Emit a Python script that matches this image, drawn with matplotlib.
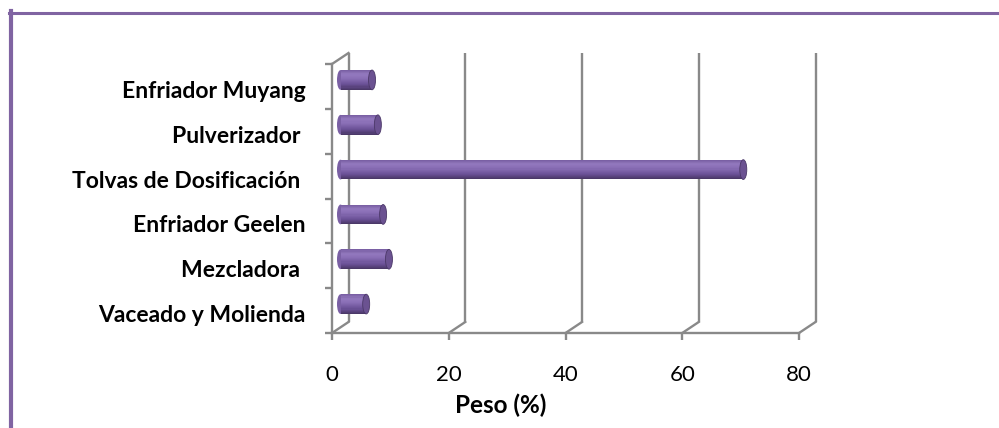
import numpy as np
import matplotlib
matplotlib.use('Agg')
import matplotlib.pyplot as plt
from matplotlib.colors import LinearSegmentedColormap
from matplotlib.patches import Ellipse
from matplotlib.lines import Line2D
import matplotlib.transforms as mtransforms

# Peso por equipo (%), de abajo hacia arriba
equipos = ['Vaceado y Molienda', 'Mezcladora ', 'Enfriador Geelen',
           'Tolvas de Dosificación ', 'Pulverizador ', 'Enfriador Muyang']
peso = [4.4, 8.3, 7.3, 69.0, 6.4, 5.4]
ticks_x = [0, 20, 40, 60, 80]

GRIS = '#898989'
MORADO = '#8064A2'
W, H, DPI = 999, 428, 100

plt.rcParams['font.family'] = ['Lato', 'DejaVu Sans']

fig = plt.figure(figsize=(W / DPI, H / DPI), dpi=DPI)
# área frontal del gráfico (en píxeles: x 332..799, y 64..333 desde arriba)
ax = fig.add_axes([332 / W, 95 / H, (799 - 332) / W, (333 - 64) / H])
ax.set_xlim(0, 80)
ax.set_ylim(0, len(equipos))
n_cat = len(equipos)


def desplazar(dx_px, dy_px):
    return ax.transData + mtransforms.ScaledTranslation(
        dx_px / DPI, dy_px / DPI, fig.dpi_scale_trans)


fondo = desplazar(16.5, 11)     # pared del fondo
medio = desplazar(8.5, 6.5)     # plano de las barras
inv = ax.transData.inverted()


def a_fondo(x, y):
    return inv.transform(fondo.transform((x, y)))


# pared del fondo: líneas de división y aristas diagonales
for xv in ticks_x:
    ax.plot([xv, xv], [0, n_cat], color=GRIS, lw=1.7, transform=fondo,
            clip_on=False, zorder=1, solid_capstyle='butt')
    xb, yb = a_fondo(xv, 0)
    ax.plot([xv, xb], [0, yb], color=GRIS, lw=1.7, clip_on=False, zorder=1)
xt, yt = a_fondo(0, n_cat)
ax.plot([0, xt], [n_cat, yt], color=GRIS, lw=1.7, clip_on=False, zorder=1)

# cilindros: franjas horizontales con degradado
cmap = LinearSegmentedColormap.from_list('cil', [
    (0.0, '#4B3868'), (0.25, '#6A5096'), (0.6, '#8A6FB6'),
    (0.8, '#9379BE'), (1.0, '#7A60A4')])
alto = 0.44
n = 18
px_por_unidad = (799 - 332) / 80
ancho_tapa = 7 / px_por_unidad
centros = np.arange(n_cat) + 0.5
for yc, v in zip(centros, peso):
    ax.add_patch(Ellipse((0, yc), ancho_tapa, alto, facecolor='#7A60A4',
                         edgecolor='none', transform=medio, zorder=3,
                         clip_on=False))
    for k in range(n):
        y0 = yc - alto / 2 + k * alto / n
        ax.barh(y0, v, height=alto / n, align='edge', color=cmap(k / (n - 1)),
                edgecolor='none', transform=medio, zorder=4, clip_on=False)
    ax.add_patch(Ellipse((v, yc), ancho_tapa, alto, facecolor='#6B5291',
                         edgecolor='#4B3868', lw=0.6, transform=medio,
                         zorder=5, clip_on=False))

# ejes frontales
for lado in ['top', 'right']:
    ax.spines[lado].set_visible(False)
for lado in ['left', 'bottom']:
    ax.spines[lado].set_color(GRIS)
    ax.spines[lado].set_linewidth(1.7)
    ax.spines[lado].set_zorder(2)

ax.set_xticks(ticks_x)
ax.set_xticklabels([str(t) for t in ticks_x], fontsize=16)
ax.tick_params(axis='x', direction='out', length=5, width=1.7, color=GRIS,
               pad=18, labelcolor='black')

ax.set_yticks(centros)
ax.set_yticklabels(equipos, fontsize=16.5, fontweight='bold')
ax.set_yticks(np.arange(n_cat + 1), minor=True)
ax.tick_params(axis='y', which='major', length=0, pad=19)
ax.tick_params(axis='y', which='minor', direction='out', length=5,
               width=1.7, color=GRIS)
bajar = mtransforms.ScaledTranslation(0, -3 / DPI, fig.dpi_scale_trans)
for etiqueta in ax.get_yticklabels():
    etiqueta.set_transform(etiqueta.get_transform() + bajar)

fig.text(501 / W, 1 - 405 / H, 'Peso (%)', fontsize=17.5, fontweight='bold',
         ha='center', va='center')

# marco morado
fig.add_artist(Line2D([10.5 / W, 10.5 / W], [0, 1 - 11 / H], color=MORADO,
                      lw=3, transform=fig.transFigure))
fig.add_artist(Line2D([9 / W, 1], [1 - 12.5 / H, 1 - 12.5 / H], color=MORADO,
                      lw=2.2, transform=fig.transFigure))

fig.savefig('out.png', dpi=DPI)
